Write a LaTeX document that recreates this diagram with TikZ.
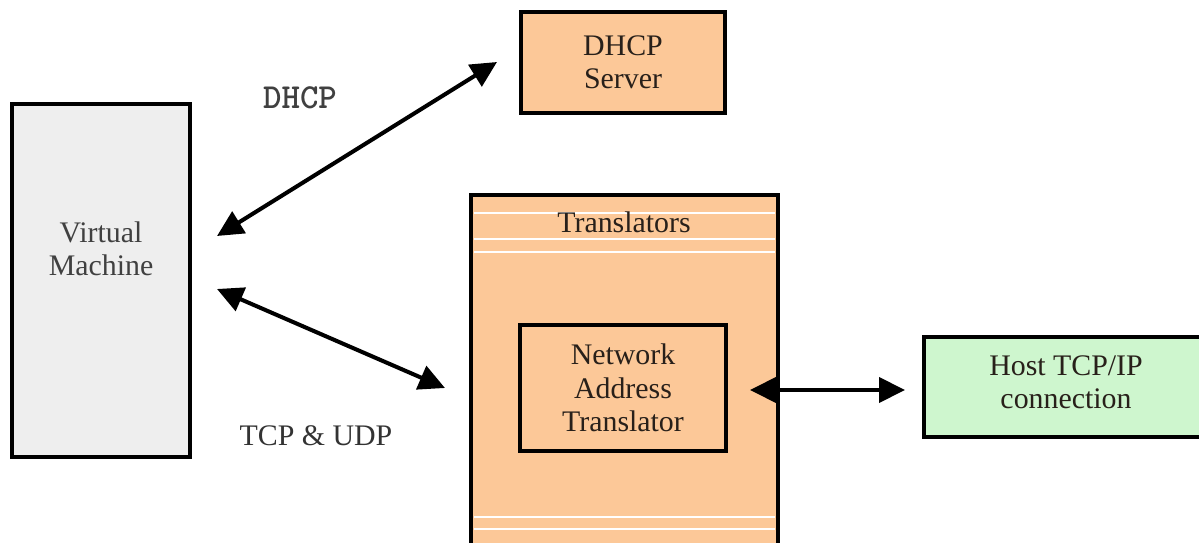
\documentclass[tikz,border=0pt]{standalone}
\usepackage{fontspec}
\setmainfont{Liberation Serif}
\usetikzlibrary{arrows.meta}
\definecolor{peach}{RGB}{252,200,152}
\definecolor{vmgrey}{RGB}{238,238,238}
\definecolor{hostgreen}{RGB}{206,246,206}
\definecolor{txt}{RGB}{40,32,26}
\begin{document}
\begin{tikzpicture}[x=0.02cm,y=-0.02cm,
  box/.style={draw=black,line width=1.8pt,align=center,text=txt,inner sep=0pt,
    font=\fontsize{17}{19}\selectfont},
  link/.style={line width=2.3pt,{Triangle[length=0.52cm,width=0.5cm]}-{Triangle[length=0.52cm,width=0.5cm]}},
  lbl/.style={text=black!80,font=\fontsize{17}{19}\selectfont},
  stripe/.style={white,line width=1.6pt}]
\useasboundingbox (0,0) rectangle (1199,543);
\clip (0,0) rectangle (1199,543);
\fill[white] (0,0) rectangle (1199,543);
% boxes
\node[box,fill=vmgrey,text=black!75,minimum width=3.56cm,minimum height=7.06cm] (vm) at (101,280.5) {};
\node[text=black!75,align=center,font=\fontsize{17}{19}\selectfont] (vmtext) at (101,249) {Virtual\\Machine};
\node[box,fill=peach,minimum width=4.08cm,minimum height=2.02cm] (dhcp) at (623,62.5) {DHCP\\Server};
\node[box,fill=peach,minimum width=6.14cm,minimum height=7.3cm] (trans) at (624.5,377.5) {};
\draw[stripe] (474,213) -- (775,213);
\draw[stripe] (474,239) -- (775,239);
\draw[stripe] (474,252) -- (775,252);
\draw[stripe] (474,517) -- (775,517);
\draw[stripe] (474,529) -- (775,529);
\node[text=txt,font=\fontsize{17}{19}\selectfont] (transtext) at (624,222) {Translators};
\node[box,fill=peach,minimum width=4.12cm,minimum height=2.52cm] (nat) at (623,388) {Network\\Address\\Translator};
\node[box,fill=hostgreen,minimum width=5.82cm,minimum height=2cm] (host) at (1069.5,387) {};
\node[text=txt,align=center,font=\fontsize{17}{19}\selectfont] (hosttext) at (1066,382) {Host TCP/IP\\connection};
% labels
\node[font=\ttfamily\bfseries\fontsize{20}{22}\selectfont,text=black!75] (dhcplbl) at (300,98) {DHCP};
\node[lbl] (tcplbl) at (316,436) {TCP \& UDP};
% arrows
\coordinate (a1) at (217,236);
\coordinate (a2) at (497,62);
\coordinate (b1) at (217,289);
\coordinate (b2) at (445,388);
\coordinate (c1) at (750,390);
\coordinate (c2) at (905,390);
\draw[link] (a1) -- (a2);
\draw[link] (b1) -- (b2);
\draw[link] (c1) -- (c2);
\end{tikzpicture}
\end{document}
